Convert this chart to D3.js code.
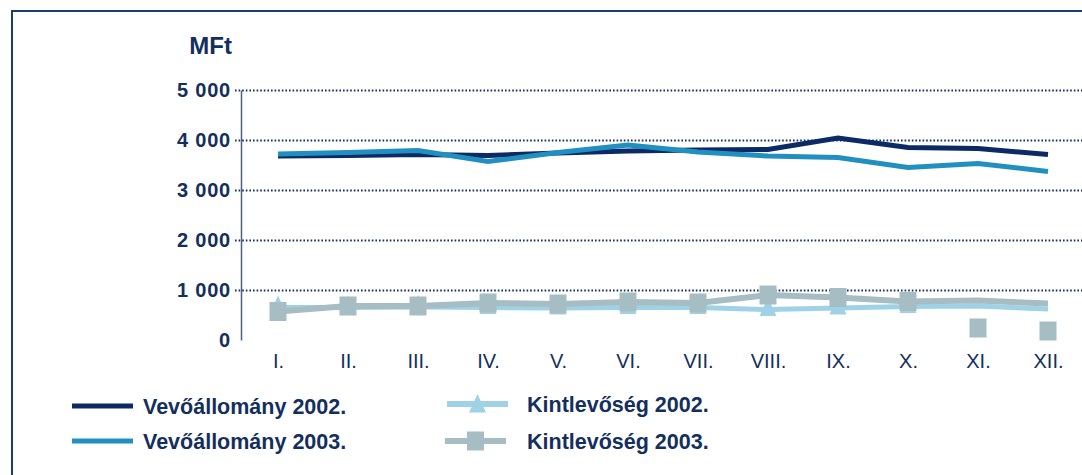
<!DOCTYPE html>
<html>
<head>
<meta charset="utf-8">
<script src="https://cdn.jsdelivr.net/npm/d3@7"></script>
<style>
  body { margin: 0; background: #fff; }
  text { font-family: "Liberation Sans", Arial, sans-serif; fill: #142f5e; }
</style>
</head>
<body>
<div id="chart"></div>
<script>
//************* data ***************/
var months = ["I.", "II.", "III.", "IV.", "V.", "VI.", "VII.", "VIII.", "IX.", "X.", "XI.", "XII."];
var yTicks = [0, 1000, 2000, 3000, 4000, 5000];

var vevo2002 = [3680, 3690, 3710, 3690, 3740, 3780, 3800, 3810, 4040, 3850, 3830, 3710];
var vevo2003 = [3720, 3750, 3790, 3570, 3750, 3900, 3760, 3680, 3650, 3450, 3530, 3370];
var kint2002 = [650, 650, 660, 650, 640, 650, 650, 610, 640, 670, 680, 620];
var kint2003 = [570, 680, 680, 740, 720, 760, 740, 900, 850, 770, 790, 730];
// markers in the original sit off the line for XI. and XII.
var kint2002Markers = [650, 650, 660, 650, 640, 650, 650, 610, 640, 670, 200, 130];
var kint2003Markers = [570, 680, 680, 740, 720, 760, 740, 900, 850, 770, 240, 180];

var seriesNames = ["Vevőállomány 2002.", "Vevőállomány 2003.", "Kintlevőség 2002.", "Kintlevőség 2003."];

//************* setup ***************/
var W = 1082, H = 475;
var navy = "#142f5e";
var colors = ["#0b2a66", "#2190c0", "#9fd2e6", "#a5bdc3"];

var svg = d3.select("#chart").append("svg")
  .attr("width", W)
  .attr("height", H);

// frame
svg.append("path")
  .attr("d", "M12," + H + " L12,11 L" + W + ",11")
  .attr("fill", "none")
  .attr("stroke", "#1f3d6c")
  .attr("stroke-width", 2);

//************* scales ***************/
var x = d3.scalePoint()
  .domain(months)
  .range([278, 1048]);

var y = d3.scaleLinear()
  .domain([0, 5000])
  .range([340, 90]);

var fmt = d3.formatLocale({decimal: ",", thousands: " ", grouping: [3], currency: ["", ""]}).format(",");

//************* axes ***************/
var yAxis = svg.append("g")
  .attr("transform", "translate(241,0)")
  .call(d3.axisLeft(y).tickValues(yTicks).tickSize(6).tickSizeOuter(0).tickPadding(4).tickFormat(fmt));

yAxis.select(".domain")
  .attr("stroke", "#4a5f85")
  .attr("stroke-width", 1.5);

yAxis.selectAll(".tick line")
  .attr("x1", -6)
  .attr("x2", W - 241)
  .attr("stroke", navy)
  .attr("stroke-width", 1.8)
  .attr("stroke-dasharray", "1.6,2")
  .filter(function(d) { return d === 0; })
  .remove();

yAxis.selectAll(".tick text")
  .attr("font-size", "20px")
  .attr("font-weight", "bold")
  .attr("letter-spacing", "0.8px")
  .attr("fill", navy);

var xAxis = svg.append("g")
  .attr("transform", "translate(0,340)")
  .call(d3.axisBottom(x).tickSize(0).tickPadding(14));

xAxis.select(".domain").remove();
xAxis.selectAll(".tick text")
  .attr("font-size", "20px")
  .attr("fill", navy);

// unit label
svg.append("text")
  .attr("x", 232)
  .attr("y", 54)
  .attr("text-anchor", "end")
  .attr("font-size", "24px")
  .attr("font-weight", "bold")
  .text("MFt");

//************* lines ***************/
function lineOf(values) {
  return d3.line()
    .x(function(d, i) { return x(months[i]); })
    .y(function(d) { return y(d); })(values);
}

var lineData = [
  {values: vevo2002, color: colors[0], width: 5},
  {values: vevo2003, color: colors[1], width: 5},
  {values: kint2002, color: colors[2], width: 5},
  {values: kint2003, color: colors[3], width: 6}
];

function drawLine(s) {
  svg.append("path")
    .attr("d", lineOf(s.values))
    .attr("fill", "none")
    .attr("stroke", s.color)
    .attr("stroke-width", s.width);
}

var triPath = "M0,-12 L8.5,6.5 L-8.5,6.5 Z";

drawLine(lineData[0]);
drawLine(lineData[1]);
drawLine(lineData[2]);

svg.append("g").selectAll("path")
  .data(kint2002Markers)
  .join("path")
    .attr("d", triPath)
    .attr("fill", colors[2])
    .attr("transform", function(d, i) { return "translate(" + x(months[i]) + "," + y(d) + ")"; });

drawLine(lineData[3]);

svg.append("g").selectAll("rect")
  .data(kint2003Markers)
  .join("rect")
    .attr("x", function(d, i) { return x(months[i]) - 8.5; })
    .attr("y", function(d) { return y(d) - 9.5; })
    .attr("width", 17)
    .attr("height", 19)
    .attr("fill", colors[3]);

//************* legend ***************/
var legendPos = [
  {lx: 72, ly: 406, tx: 143},
  {lx: 72, ly: 441, tx: 143},
  {lx: 447, ly: 404, tx: 527},
  {lx: 445, ly: 441, tx: 527}
];

seriesNames.forEach(function(name, i) {
  var p = legendPos[i];
  var g = svg.append("g");
  g.append("line")
    .attr("x1", p.lx).attr("x2", p.lx + 61)
    .attr("y1", p.ly).attr("y2", p.ly)
    .attr("stroke", colors[i])
    .attr("stroke-width", i < 2 ? 5 : 6);
  if (i === 2) {
    g.append("path")
      .attr("d", triPath)
      .attr("transform", "translate(" + (p.lx + 30.5) + "," + (p.ly + 2) + ")")
      .attr("fill", colors[i]);
  }
  if (i === 3) {
    g.append("rect")
      .attr("x", p.lx + 30.5 - 8.5)
      .attr("y", p.ly - 9.5)
      .attr("width", 17)
      .attr("height", 19)
      .attr("fill", colors[i]);
  }
  g.append("text")
    .attr("x", p.tx)
    .attr("y", p.ly + 7.5)
    .attr("font-size", "21.5px")
    .attr("font-weight", "bold")
    .text(name);
});
</script>
</body>
</html>
